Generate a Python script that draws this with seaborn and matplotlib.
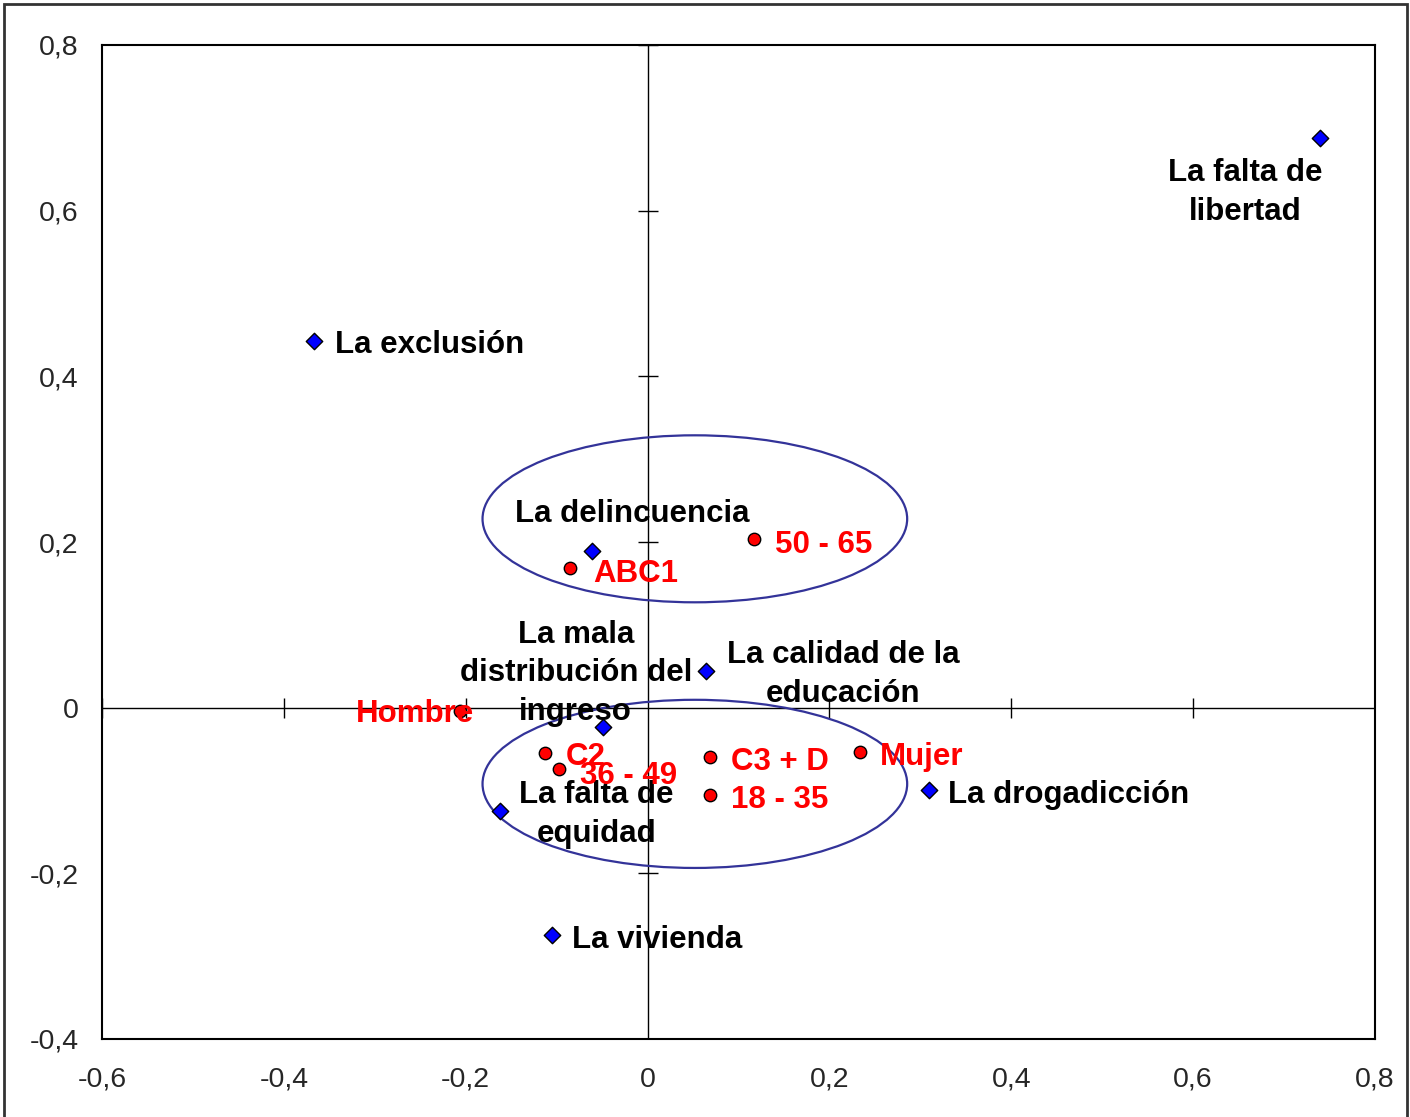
import seaborn as sns
import matplotlib.pyplot as plt
import pandas as pd
from matplotlib.patches import Ellipse, Rectangle

# problemas (azul)
problemas = ["La falta de libertad", "La exclusión", "La delincuencia", "La calidad de la educación",
             "La mala distribución del ingreso", "La falta de equidad", "La drogadicción", "La vivienda"]
prob_x = [0.739, -0.367, -0.061, 0.064, -0.049, -0.162, 0.309, -0.105]
prob_y = [0.688, 0.443, 0.189, 0.044, -0.023, -0.125, -0.099, -0.275]

# segmentos (rojo)
segmentos = ["ABC1", "50 - 65", "Hombre", "C2", "36 - 49", "C3 + D", "18 - 35", "Mujer"]
seg_x = [-0.085, 0.117, -0.206, -0.113, -0.097, 0.069, 0.069, 0.234]
seg_y = [0.169, 0.204, -0.004, -0.055, -0.074, -0.060, -0.105, -0.053]

# etiquetas (texto, x, y, alineacion)
prob_labels = ["La falta de\nlibertad", "La exclusión", "La delincuencia", "La calidad de la\neducación",
               "La mala\ndistribución del\ningreso", "La falta de\nequidad", "La drogadicción", "La vivienda"]
prob_lx = [0.657, -0.344, -0.017, 0.215, -0.079, -0.056, 0.330, -0.083]
prob_ly = [0.622, 0.438, 0.2335, 0.0403, 0.0415, -0.129, -0.106, -0.280]
prob_ha = ["center", "left", "center", "center", "center", "center", "left", "left"]

seg_lx = [-0.060, 0.140, -0.321, -0.090, -0.074, 0.092, 0.092, 0.255]
seg_ly = [0.161, 0.196, -0.008, -0.060, -0.082, -0.066, -0.112, -0.059]

# elipses (centro x, centro y, ancho, alto)
ellipses = [(0.052, 0.228, 0.467, 0.2016), (0.052, -0.092, 0.467, 0.203)]

x_ticks = [-0.6, -0.4, -0.2, 0, 0.2, 0.4, 0.6, 0.8]
y_ticks = [-0.4, -0.2, 0, 0.2, 0.4, 0.6, 0.8]

df_p = pd.DataFrame({"x": prob_x, "y": prob_y, "name": problemas})
df_s = pd.DataFrame({"x": seg_x, "y": seg_y, "name": segmentos})

sns.set_style("white")
plt.rcParams['font.family'] = ['Liberation Sans', 'DejaVu Sans']

fig = plt.figure(figsize=(14.1, 11.17), dpi=100)
ax = fig.add_axes([102 / 1410, 1 - 1039 / 1117, (1375 - 102) / 1410, (1039 - 45) / 1117])

# marco exterior
fig.patches.append(Rectangle((4 / 1410, -0.01), 1403 / 1410, 1.01 - 4 / 1117, transform=fig.transFigure,
                             fill=False, edgecolor="#333333", linewidth=2))

ax.axhline(0, color="black", linewidth=1, zorder=1)
ax.axvline(0, color="black", linewidth=1, zorder=1)
ax.plot([t for t in x_ticks if t != 0], [0] * (len(x_ticks) - 1), linestyle="none", marker="|",
        markersize=14, color="black", markeredgewidth=1, zorder=1)
ax.plot([0] * (len(y_ticks) - 1), [t for t in y_ticks if t != 0], linestyle="none", marker="_",
        markersize=14, color="black", markeredgewidth=1, zorder=1)

for cx, cy, w, h in ellipses:
    ax.add_patch(Ellipse((cx, cy), w, h, fill=False, edgecolor="#333399", linewidth=1.6, zorder=2))

sns.scatterplot(data=df_p, x="x", y="y", marker="D", color="#0000FF", edgecolor="black",
                linewidth=1, s=70, ax=ax, zorder=3)
sns.scatterplot(data=df_s, x="x", y="y", marker="o", color="#FF0000", edgecolor="black",
                linewidth=1, s=80, ax=ax, zorder=3)

for t, x, y, ha in zip(prob_labels, prob_lx, prob_ly, prob_ha):
    ax.text(x, y, t, ha=ha, va="center", fontsize=22.5, fontweight="bold", color="black",
            linespacing=1.38, multialignment="center", zorder=4)
for t, x, y in zip(segmentos, seg_lx, seg_ly):
    ax.text(x, y, t, ha="left", va="center", fontsize=22.5, fontweight="bold", color="#FF0000", zorder=4)

ax.set_xlim(-0.6, 0.8)
ax.set_ylim(-0.4, 0.8)
ax.set_xticks(x_ticks)
ax.set_yticks(y_ticks)
fmt = lambda v: "0" if abs(v) < 1e-9 else f"{v:.1f}".replace(".", ",")
ax.set_xticklabels([fmt(v) for v in x_ticks])
ax.set_yticklabels([fmt(v) for v in y_ticks])
ax.tick_params(axis="x", length=0, pad=20, labelsize=20.5)
ax.tick_params(axis="y", length=0, pad=17, labelsize=20.5)
ax.set_xlabel("")
ax.set_ylabel("")
for sp in ax.spines.values():
    sp.set_visible(True)
    sp.set_color("black")
    sp.set_linewidth(1.5)

fig.savefig("out.png", dpi=100)
